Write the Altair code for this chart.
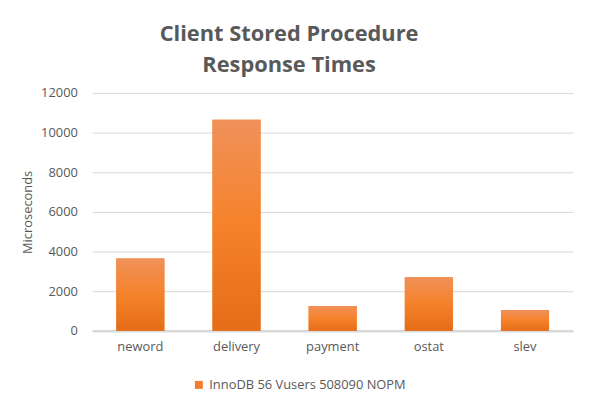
import altair as alt
import pandas as pd

categories = ["neword", "delivery", "payment", "ostat", "slev"]
values = [3650, 10650, 1250, 2700, 1050]
series_name = "InnoDB 56 Vusers 508090 NOPM"
y_ticks = [0, 2000, 4000, 6000, 8000, 10000, 12000]

df = pd.DataFrame({"proc": categories, "us": values, "series": [series_name] * len(categories)})

FONT = "Open Sans"
TXT = "#595959"
GRID = "#D9D9D9"

x_enc = alt.X(
    "proc:N",
    sort=categories,
    scale=alt.Scale(paddingInner=0.5, paddingOuter=0.25),
    axis=alt.Axis(
        title=None, labelAngle=0, labelFontSize=13, labelColor=TXT, labelFont=FONT,
        labelPadding=10, ticks=False, domain=True, domainColor=GRID, domainWidth=2.5, grid=False,
    ),
)
y_enc = alt.Y(
    "us:Q",
    scale=alt.Scale(domain=[0, 12000], nice=False),
    axis=alt.Axis(
        title="Microseconds", values=y_ticks, format="d", labelFontSize=13, labelColor=TXT,
        labelFont=FONT, labelPadding=15, ticks=False, domain=False, grid=True, gridColor=GRID,
        gridWidth=1, titleFont=FONT, titleFontSize=13, titleFontWeight="normal",
        titleColor=TXT, titleX=-65, titleBaseline="middle",
    ),
)

base = alt.Chart(df).mark_bar().encode(
    x=x_enc,
    y=y_enc,
    color=alt.Color(
        "series:N",
        scale=alt.Scale(range=["#F07E2B"]),
        legend=alt.Legend(
            title=None, orient="none", legendX=101, legendY=288, symbolType="square",
            symbolSize=64, symbolStrokeWidth=0, labelFontSize=13, labelColor=TXT,
            labelFont=FONT, labelOffset=4, labelLimit=0,
        ),
    ),
)

grad = alt.Chart(df).mark_bar(
    color=alt.LinearGradient(
        gradient="linear",
        stops=[
            alt.GradientStop(offset=0, color="#F0915A"),
            alt.GradientStop(offset=0.5, color="#F5822A"),
            alt.GradientStop(offset=1, color="#E56C18"),
        ],
        x1=0, x2=0, y1=0, y2=1,
    )
).encode(x=x_enc, y=y_enc)

chart = (
    alt.layer(base, grad)
    .properties(
        width=485,
        height=240,
        autosize=alt.AutoSizeParams(type="none"),
        padding={"left": 85, "top": 84, "right": 10, "bottom": 60},
        view=alt.ViewBackground(stroke="transparent", strokeWidth=0),
        title=alt.TitleParams(
            ["Client Stored Procedure", "Response Times"],
            fontSize=22, font=FONT, fontWeight="bold", color=TXT,
            anchor="middle", dx=-44, offset=10, lineHeight=31,
        ),
    )
    .configure_view(stroke="transparent", strokeWidth=0)
    .configure(background="white")
)

chart.save("out.html", embed_options={"renderer": "svg", "actions": False})
